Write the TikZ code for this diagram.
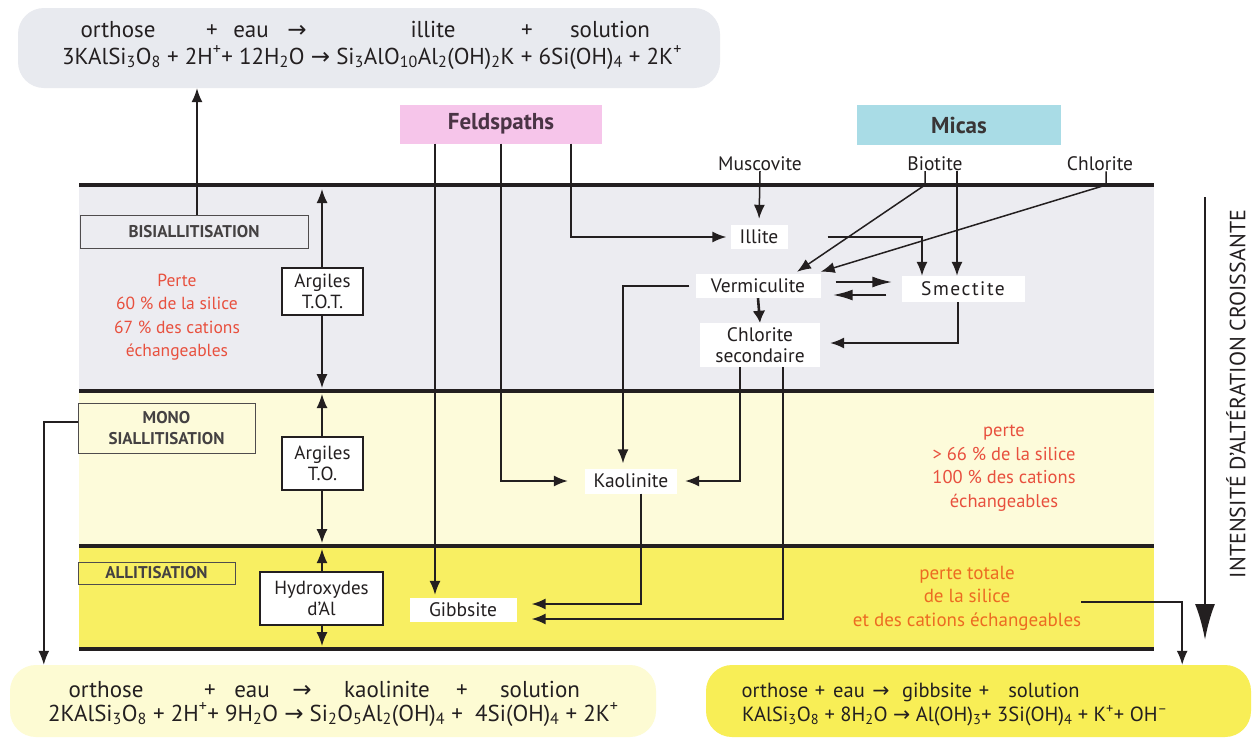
\documentclass[tikz,border=0pt]{standalone}
\usepackage{fontspec}
\setmainfont{PT Sans}
\newfontfamily\symf{DejaVu Sans}
\usetikzlibrary{arrows.meta}
\newcommand{\sbs}[1]{\textsubscript{#1}}
\newcommand{\sps}[1]{\textsuperscript{#1}}
\newcommand{\ra}{{\symf →}}
\definecolor{ink}{HTML}{231F20}
\definecolor{topbg}{HTML}{E8EAEF}
\definecolor{bandA}{HTML}{ECECF1}
\definecolor{bandB}{HTML}{FDFBDA}
\definecolor{bandC}{HTML}{F8EF62}
\definecolor{botL}{HTML}{FDFBD3}
\definecolor{botR}{HTML}{F8EE56}
\definecolor{feldc}{HTML}{F6C5EA}
\definecolor{micac}{HTML}{A9DCE6}
\definecolor{redt}{HTML}{E8503E}
\definecolor{orat}{HTML}{EC6B22}
\definecolor{feldt}{HTML}{4A3445}
\tikzset{
  eq/.style={font=\fontsize{23}{26}\selectfont, text=ink, inner sep=0pt, anchor=base},
  eqs/.style={font=\fontsize{20.5}{24}\selectfont, text=ink, inner sep=0pt, anchor=base},
  lbl/.style={font=\fontsize{19.5}{21}\selectfont, text=ink, inner sep=0pt},
  wbox/.style={lbl, fill=white, minimum height=24pt},
  bbox/.style={font=\fontsize{19}{21}\selectfont, text=ink, inner sep=0pt, draw=ink, line width=1.3pt, fill=white, align=center},
  cat/.style={font=\fontsize{17}{20}\selectfont\bfseries, text=ink!85, draw=ink!80, line width=0.9pt, inner sep=0pt, align=center},
  conn/.style={draw=ink, line width=1.5pt, -{Latex[length=14pt,width=11pt]}},
  dbl/.style={draw=ink, line width=1.5pt, {Latex[length=14pt,width=11pt]}-{Latex[length=14pt,width=11pt]}},
  fat/.style={draw=ink, line width=2.2pt, -{Latex[length=20pt,width=11pt]}},
  bandline/.style={draw=ink, line width=3.5pt},
  redtxt/.style={text=redt, align=center, inner sep=0pt},
  oratxt/.style={font=\fontsize{19}{23.5}\selectfont, text=orat, align=center, inner sep=0pt},
  eqbox/.style={rounded corners=26pt, inner sep=0pt},
}
\begin{document}
\begin{tikzpicture}[x=1pt,y=-1pt]
\useasboundingbox (0,0) rectangle (1253,740);
\fill[white] (0,0) rectangle (1253,740);
% bands
\fill[bandA] (79,185) rectangle (1154,391);
\fill[bandB] (79,391) rectangle (1154,546);
\fill[bandC] (79,546) rectangle (1154,649);
\draw[bandline] (79,185) -- (1154,185);
\draw[bandline] (79,391) -- (1154,391);
\draw[bandline] (79,546) -- (1154,546);
\draw[bandline] (79,649) -- (1154,649);
\coordinate (bandtop) at (0,185);
% equation boxes
\node[eqbox, fill=topbg, minimum width=702pt, minimum height=80pt] (topbox) at (369,48) {};
\node[eqbox, fill=botL, minimum width=646pt, minimum height=72pt] (botl) at (333,701) {};
\node[eqbox, fill=botR, minimum width=545pt, minimum height=72pt] (botr) at (978.5,701) {};
% top equation
\node[eq] (t1) at (118,37) {orthose};
\node[eq] (t2) at (212,37) {+};
\node[eq] (t3) at (251,37) {eau};
\node[eq] (t4) at (297,37) {\ra};
\node[eq] (t5) at (433,37) {illite};
\node[eq] (t6) at (527,37) {+};
\node[eq] (t7) at (610,37) {solution};
\node[eq, anchor=base west] (t8) at (62,64) {3KAlSi\sbs{3}O\sbs{8} + 2H\sps{+}+ 12H\sbs{2}O \ra{} Si\sbs{3}AlO\sbs{10}Al\sbs{2}(OH)\sbs{2}K + 6Si(OH)\sbs{4} + 2K\sps{+}};
% bottom-left equation
\node[eq] (l1) at (106,697) {orthose};
\node[eq] (l2) at (210,697) {+};
\node[eq] (l3) at (252,697) {eau};
\node[eq] (l4) at (302,697) {\ra};
\node[eq] (l5) at (387,697) {kaolinite};
\node[eq] (l6) at (462,697) {+};
\node[eq] (l7) at (540,697) {solution};
\node[eq, anchor=base west] (l8) at (48,721) {2KAlSi\sbs{3}O\sbs{8} + 2H\sps{+}+ 9H\sbs{2}O \ra{} Si\sbs{2}O\sbs{5}Al\sbs{2}(OH)\sbs{4} + \ 4Si(OH)\sbs{4} + 2K\sps{+}};
% bottom-right equation
\node[eqs] (r1) at (775,697) {orthose};
\node[eqs] (r2) at (820,697) {+};
\node[eqs] (r3) at (849,697) {eau};
\node[eqs] (r4) at (881,697) {\ra};
\node[eqs] (r5) at (937,697) {gibbsite};
\node[eqs] (r6) at (984,697) {+};
\node[eqs] (r7) at (1044,697) {solution};
\node[eqs, anchor=base west] (r8) at (742,721) {KAlSi\sbs{3}O\sbs{8} + 8H\sbs{2}O \ra{} Al(OH)\sbs{3}+ 3Si(OH)\sbs{4} + K\sps{+}+ OH\sps{–}};
% mineral families
\node[fill=feldc, minimum width=202pt, minimum height=39pt, inner sep=0pt, font=\fontsize{23}{25}\selectfont\bfseries, text=feldt] (feld) at (501,124) {Feldspaths};
\node[fill=micac, minimum width=204pt, minimum height=40pt, inner sep=0pt, font=\fontsize{23}{25}\selectfont\bfseries, text=ink!90] (micas) at (959,125) {Micas};
\node[lbl] (musc) at (760,164) {Muscovite};
\node[lbl] (biot) at (935,164) {Biotite};
\node[lbl] (chlo) at (1100,164) {Chlorite};
% vertical double arrows (drawn before the boxes)
\coordinate (v1) at (322,189);
\coordinate (v2) at (322,388);
\coordinate (v3) at (322,394);
\coordinate (v4) at (322,543);
\coordinate (v5) at (322,549);
\coordinate (v6) at (322,646);
\draw[dbl] (v1) -- (v2);
\draw[dbl] (v3) -- (v4);
\draw[dbl] (v5) -- (v6);
% clay nodes
\node[wbox, minimum width=57pt] (illite) at (759,237) {Illite};
\node[wbox, minimum width=125pt] (vermic) at (758,286) {Vermiculite};
\node[wbox, minimum width=123pt, minimum height=26pt, font=\fontsize{19.5}{21}\selectfont\addfontfeature{LetterSpace=8}] (smect) at (963,289) {Smectite};
\node[wbox, minimum width=120pt, minimum height=44pt, align=center, font=\fontsize{19.5}{20.5}\selectfont] (chlsec) at (760,345) {Chlorite\\secondaire};
\node[wbox, minimum width=92pt, minimum height=25pt] (kaol) at (631,481) {Kaolinite};
\node[wbox, minimum width=107pt] (gibb) at (463,610) {Gibbsite};
% argiles boxes
\node[bbox, minimum width=81pt, minimum height=47pt] (tot) at (322.5,291.5) {Argiles\\T.O.T.};
\node[bbox, minimum width=81pt, minimum height=53pt] (to) at (322.5,463.5) {Argiles\\T.O.};
\node[bbox, minimum width=123pt, minimum height=53pt] (hyd) at (321.5,598.5) {Hydroxydes\\d'Al};
% category boxes
\node[cat, minimum width=228pt, minimum height=33pt] (bisi) at (194,231.5) {BISIALLITISATION};
\node[cat, minimum width=177pt, minimum height=50pt, font=\fontsize{17}{21}\selectfont\bfseries] (mono) at (166.5,428) {MONO\\SIALLITISATION};
\node[cat, minimum width=157pt, minimum height=22pt] (alli) at (156.5,573) {ALLITISATION};
% red texts
\node[redtxt, font=\fontsize{17.5}{23.5}\selectfont] (pl) at (177,317) {Perte\\60 \% de la silice\\67 \% des cations\\échangeables};
\node[redtxt, font=\fontsize{18.5}{23.5}\selectfont] (pr) at (1004,468) {perte\\> 66 \% de la silice\\100 \% des cations\\échangeables};
\node[oratxt] (pt) at (967,598) {perte totale\\de la silice\\et des cations échangeables};
% side arrow
\coordinate (ia) at (1205,197);
\coordinate (ib) at (1205,640);
\draw[draw=ink, line width=2.7pt, -{Latex[length=36pt,width=20pt]}] (ia) -- (ib);
\node[font=\fontsize{22}{24}\selectfont, text=ink, rotate=90, inner sep=0pt] (intens) at (1236,394) {INTENSITÉ D'ALTÉRATION CROISSANTE};
% connectors
\draw[conn] ([xshift=3pt]bisi.north) -- ([xshift=3pt]bisi.north |- topbox.south);
\draw[conn] ([yshift=6pt]mono.west) -| ([xshift=34pt]botl.north west);
\draw[conn] ([yshift=-4pt]pt.east) -| ([xshift=-69pt]botr.north east);
\draw[conn, shorten >=3pt] ([xshift=-66pt]feld.south) -- ([xshift=-66pt]feld.south |- gibb.north);
\draw[conn, shorten >=17pt] (feld.south) |- (kaol.west);
\draw[conn, shorten >=4pt] ([xshift=70pt]feld.south) |- (illite.west);
\draw[conn, shorten >=6pt] (musc.south) -- (illite.north);
\draw[conn] ([xshift=-10pt]biot.south) -- ([xshift=-10pt]biot.south |- bandtop) -- ([xshift=39pt,yshift=2pt]vermic.north);
\draw[conn] ([xshift=22pt]biot.south) -- ([xshift=-6pt]smect.north);
\draw[conn] ([xshift=6pt]chlo.south) -- ([xshift=6pt]chlo.south |- bandtop) -- ([yshift=2pt]vermic.north east);
\draw[conn] ([xshift=40pt]illite.east) -| ([xshift=-41pt]smect.north);
\draw[fat] ([xshift=15pt,yshift=4pt]vermic.east) -- ([xshift=-9pt,yshift=7pt]smect.west);
\draw[fat] ([xshift=-15pt,yshift=-6pt]smect.west) -- ([xshift=12pt,yshift=-9pt]vermic.east);
\draw[draw=ink, line width=2.6pt, -{Latex[length=12pt,width=13pt]}] (vermic.south) -- (chlsec.north);
\draw[conn] ([xshift=-5pt]smect.south) |- ([xshift=10pt,yshift=2pt]chlsec.east);
\draw[conn, shorten >=5pt] ([xshift=-6pt]vermic.west) -| ([xshift=-8pt]kaol.north);
\draw[conn] ([xshift=-20pt]chlsec.south) |- ([xshift=8pt]kaol.east);
\draw[conn] ([xshift=23pt]chlsec.south) |- ([xshift=15pt,yshift=-9pt]gibb.east);
\draw[conn] ([xshift=10pt]kaol.south) |- ([xshift=15pt,yshift=6pt]gibb.east);
\end{tikzpicture}
\end{document}
